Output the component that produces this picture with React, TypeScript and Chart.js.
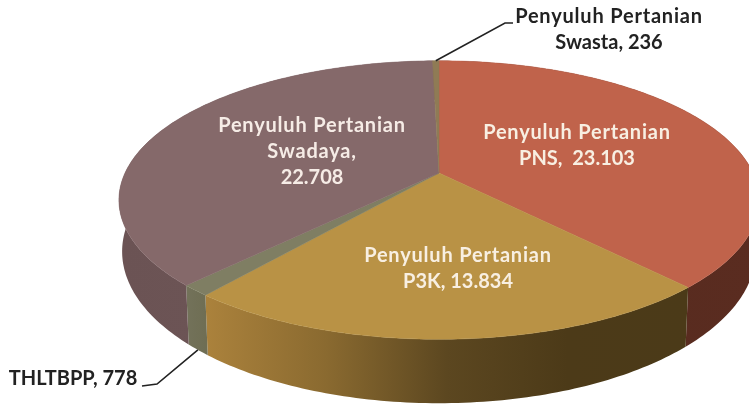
import React, { useEffect, useRef } from "react";
import { Chart, registerables } from "chart.js";

Chart.register(...registerables);

const categories = [
  "Penyuluh Pertanian PNS",
  "Penyuluh Pertanian P3K",
  "THLTBPP",
  "Penyuluh Pertanian Swadaya",
  "Penyuluh Pertanian Swasta",
];
const values = [23103, 13834, 778, 22708, 236];
const topColors = ["#c0634b", "#b99245", "#7f7e63", "#85696a", "#8f7b55"];
const sideStops: string[][] = [
  ["#552a1e", "#5a2c20"],
  ["#ab823c", "#8a6a30", "#5c4720", "#4c3a18", "#4b3a18"],
  ["#73725a", "#6f6e54"],
  ["#6b5354", "#6f5758"],
  ["#6f5f42", "#6f5f42"],
];
const labelLines = [
  ["Penyuluh Pertanian", "PNS,  23.103"],
  ["Penyuluh Pertanian", "P3K, 13.834"],
  ["THLTBPP, 778"],
  ["Penyuluh Pertanian", "Swadaya,", "22.708"],
  ["Penyuluh Pertanian", "Swasta, 236"],
];
const labelAnchors = [
  [577, 133],
  [458, 256],
  [73, 379],
  [312, 126],
  [609, 17],
];
const labelColors = ["#f8efe2", "#f8efe2", "#222222", "#f6ece6", "#222222"];
const LINE_GAP = 26;

// perspective of the disc
const CX = 439, CY = 173, A = 314, B = 134, K = 0.194;
const BOTTOM_SX = 0.99, BOTTOM_SY = 1.09, BOTTOM_CY = 222;

function top(angle: number) {
  const a = angle + Math.PI / 2;
  const u = Math.sin(a), v = -Math.cos(a);
  const w = 1 - K * v;
  return { dx: (A * u) / w, dy: (B * v) / w };
}
const topPt = (angle: number): [number, number] => {
  const p = top(angle);
  return [CX + p.dx, CY + p.dy];
};
const botPt = (angle: number): [number, number] => {
  const p = top(angle);
  return [CX + BOTTOM_SX * p.dx, BOTTOM_CY + BOTTOM_SY * p.dy];
};
function samples(a0: number, a1: number) {
  const n = Math.max(2, Math.ceil(Math.abs(a1 - a0) * 60));
  return Array.from({ length: n + 1 }, (_, i) => a0 + ((a1 - a0) * i) / n);
}

const pie3d = {
  id: "pie3d",
  beforeDatasetsDraw(chart: any) {
    const ctx = chart.ctx as CanvasRenderingContext2D;
    const arcs = chart.getDatasetMeta(0).data as any[];
    ctx.save();
    arcs.forEach((arc, i) => {
      const angs = samples(arc.startAngle, arc.endAngle);
      const xs = angs.map((a) => topPt(a)[0]);
      const minX = Math.min(...xs), maxX = Math.max(...xs);
      const g = ctx.createLinearGradient(minX, 0, maxX, 0);
      const stops = sideStops[i];
      stops.forEach((c, s) => g.addColorStop(s / (stops.length - 1), c));
      ctx.beginPath();
      angs.forEach((a, j) => {
        const p = topPt(a);
        j ? ctx.lineTo(p[0], p[1]) : ctx.moveTo(p[0], p[1]);
      });
      angs.slice().reverse().forEach((a) => {
        const p = botPt(a);
        ctx.lineTo(p[0], p[1]);
      });
      ctx.closePath();
      ctx.fillStyle = g;
      ctx.fill();
    });
    arcs.forEach((arc, i) => {
      const angs = samples(arc.startAngle, arc.endAngle);
      ctx.beginPath();
      ctx.moveTo(CX, CY);
      angs.forEach((a) => {
        const p = topPt(a);
        ctx.lineTo(p[0], p[1]);
      });
      ctx.closePath();
      ctx.fillStyle = topColors[i];
      ctx.strokeStyle = topColors[i];
      ctx.lineWidth = 0.5;
      ctx.fill();
      ctx.stroke();
    });
    ctx.restore();
    return false;
  },
  afterDraw(chart: any) {
    const ctx = chart.ctx as CanvasRenderingContext2D;
    const arcs = chart.getDatasetMeta(0).data as any[];
    ctx.save();
    // leader lines
    ctx.strokeStyle = "#222222";
    ctx.lineWidth = 1.6;
    const swasta = arcs[4];
    const sp = topPt((swasta.startAngle + swasta.endAngle) / 2);
    ctx.beginPath();
    ctx.moveTo(sp[0], sp[1]);
    ctx.lineTo(505, 23);
    ctx.lineTo(513, 23);
    ctx.stroke();
    const thl = arcs[2];
    const tp = botPt((thl.startAngle + thl.endAngle) / 2);
    ctx.beginPath();
    ctx.moveTo(tp[0], tp[1]);
    ctx.lineTo(157, 384);
    ctx.lineTo(142, 386);
    ctx.stroke();
    // labels
    ctx.font = 'bold 20px Lato, "Open Sans", sans-serif';
    ctx.textAlign = "center";
    ctx.textBaseline = "middle";
    labelLines.forEach((lines, i) => {
      ctx.fillStyle = labelColors[i];
      lines.forEach((t, j) => {
        (ctx as any).letterSpacing = /\d/.test(t) ? "0px" : "0.8px";
        ctx.fillText(t, labelAnchors[i][0], labelAnchors[i][1] + j * LINE_GAP);
      });
    });
    ctx.restore();
  },
};

export default function App() {
  const ref = useRef<HTMLCanvasElement>(null);
  useEffect(() => {
    const chart = new Chart(ref.current!, {
      type: "pie",
      data: {
        labels: categories,
        datasets: [{ data: values, backgroundColor: topColors, borderWidth: 0 }],
      },
      options: {
        responsive: false,
        animation: false,
        rotation: 0,
        plugins: { legend: { display: false }, tooltip: { enabled: false } },
      },
      plugins: [pie3d],
    } as any);
    return () => chart.destroy();
  }, []);
  return (
    <div style={{ position: "absolute", left: 0, top: 0, width: 749, height: 407, background: "#fff", overflow: "hidden" }}>
      <canvas ref={ref} width={749} height={407} style={{ display: "block", filter: "blur(0.4px)" }} />
    </div>
  );
}
